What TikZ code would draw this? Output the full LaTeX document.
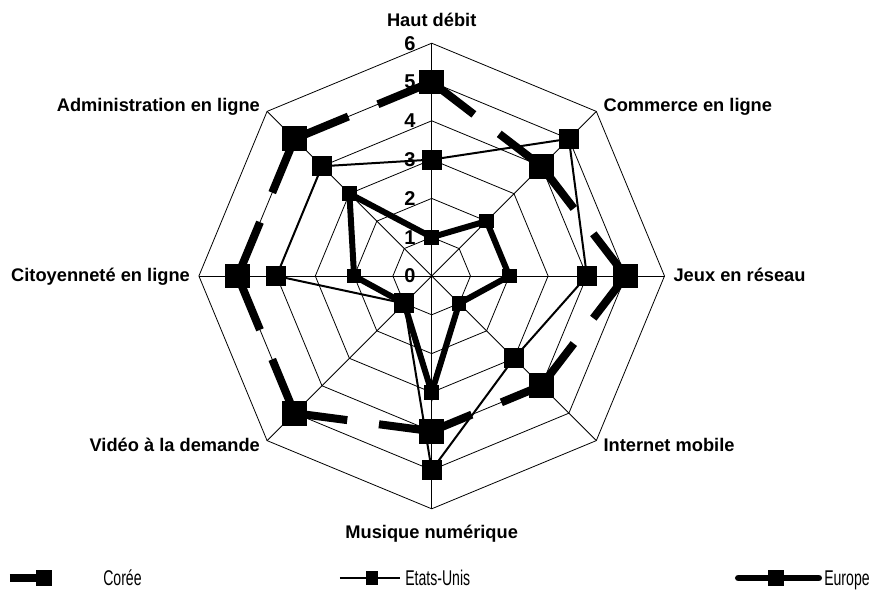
\documentclass[tikz,border=0pt]{standalone}
\usepackage{fontspec}
\setmainfont{Liberation Sans}
\newfontfamily\keyfont[FakeStretch=0.66]{Liberation Sans}
\usetikzlibrary{positioning,calc}

\begin{document}
\begin{tikzpicture}[x = 0.75pt, y = 0.75pt,
    web/.style = {line width = 0.6pt},
    catlabel/.style = {font = \fontsize{13.7}{16}\selectfont\bfseries, inner sep = 0pt},
    numlabel/.style = {font = \fontsize{15}{17}\selectfont\bfseries, inner sep = 0pt},
    keylabel/.style = {font = \keyfont\fontsize{16}{18}\selectfont, inner sep = 0pt, anchor = base west},
    koreamark/.style = {fill, inner sep = 0pt, minimum size = 18.5pt},
    usmark/.style = {fill, inner sep = 0pt, minimum size = 15pt},
    eumark/.style = {fill, inner sep = 0pt, minimum size = 11pt}]
    \useasboundingbox (-431.7,-321) rectangle (438.3,276);
    \def\ru{38.8}
    \coordinate (c) at (0,0);
    % web
    \foreach \k in {1,...,6}
      \draw[web] (90:{\k*\ru}) \foreach \a in {45,0,...,-225} { -- (\a:{\k*\ru}) } -- cycle;
    \foreach \a [count=\i] in {90,45,...,-225}
      \draw[web] (c) -- (\a:{6*\ru}) coordinate (o\i);
    \foreach \k in {0,...,6}
      \node[numlabel] (n\k) at (-21.7,{\k*\ru}) {\k};
    % categories
    \node[catlabel, anchor = base] (hd) at (0,250) {Haut débit};
    \node[catlabel, anchor = base west] (cl) at (171.6,164.3) {Commerce en ligne};
    \node[catlabel, anchor = base west] (jr) at (241.6,-5.7) {Jeux en réseau};
    \node[catlabel, anchor = base west] (im) at (171.6,-175.7) {Internet mobile};
    \node[catlabel, anchor = base] (mn) at (0,-262.3) {Musique numérique};
    \node[catlabel, anchor = base east] (vd) at (-171.6,-175.7) {Vidéo à la demande};
    \node[catlabel, anchor = base east] (ci) at (-241.6,-5.7) {Citoyenneté en ligne};
    \node[catlabel, anchor = base east] (ad) at (-171.6,164.3) {Administration en ligne};
    % data
    \foreach \v [count=\i] in {5,4,5,4,4,5,5,5}
      \coordinate (ko\i) at ({135-45*\i}:{\v*\ru});
    \foreach \v [count=\i] in {3,5,4,3,5,1,4,4}
      \coordinate (us\i) at ({135-45*\i}:{\v*\ru});
    \foreach \v [count=\i] in {1,2,2,1,3,1,2,3}
      \coordinate (eu\i) at ({135-45*\i}:{\v*\ru});
    % Coree
    \foreach \i/\n in {1/2,2/3,3/4,4/5,5/6,6/7,7/8,8/1} {
      \draw[line width = 6pt, shorten > = 12pt] (ko\i) -- ($(ko\i)!0.5!(ko\n)$);
      \draw[line width = 6pt, shorten > = 12pt] (ko\n) -- ($(ko\i)!0.5!(ko\n)$);
    }
    \foreach \i in {1,...,8} \node[koreamark] (kom\i) at (ko\i) {};
    % Etats-Unis
    \draw[line width = 1.5pt] (us1) \foreach \i in {2,...,8} { -- (us\i) } -- cycle;
    \foreach \i in {1,...,8} \node[usmark] (usm\i) at (us\i) {};
    % Europe
    \draw[line width = 4.5pt] (eu1) \foreach \i in {2,...,8} { -- (eu\i) } -- cycle;
    \foreach \i in {1,...,8} \node[eumark] (eum\i) at (eu\i) {};
    % legend
    \coordinate (ka) at (-421.7,-302);
    \coordinate (kb) at (-379.7,-302);
    \draw[line width = 6pt] (ka) -- (kb);
    \node[fill, inner sep = 0pt, minimum size = 12pt] (km) at (-387.7,-302) {};
    \node[keylabel] (kt) at (-328.7,-309.5) {Corée};
    \coordinate (ua) at (-91.7,-302);
    \coordinate (ub) at (-31.7,-302);
    \draw[line width = 1.5pt] (ua) -- (ub);
    \node[fill, inner sep = 0pt, minimum width = 9pt, minimum height = 11pt] (um) at (-59.7,-302) {};
    \node[keylabel] (ut) at (-26.7,-309.5) {Etats-Unis};
    \coordinate (ea) at (306.6,-302);
    \coordinate (eb) at (387,-302);
    \draw[line width = 5pt, line cap = round] (ea) -- (eb);
    \node[fill, inner sep = 0pt, minimum size = 12pt] (em) at (344.3,-302) {};
    \node[keylabel] (et) at (392.3,-309.5) {Europe};
\end{tikzpicture}
\end{document}
